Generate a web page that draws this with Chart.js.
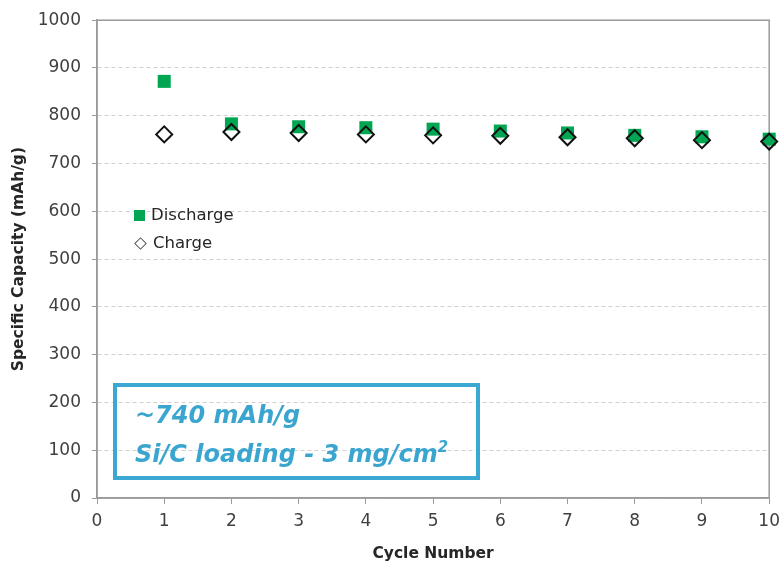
<!DOCTYPE html>
<html lang="en">
<head>
  <meta charset="utf-8">
  <title>Specific Capacity vs Cycle Number</title>
  <script src="https://cdn.jsdelivr.net/npm/chart.js@4.4.1/dist/chart.umd.min.js"></script>
  <style>
    html, body { margin: 0; padding: 0; background: #fff; }
    .wrap { position: relative; width: 781px; height: 565px; overflow: hidden; font-family: "DejaVu Sans", sans-serif; }
    #chart { position: absolute; left: 0; top: -1.5px; }
    .legend { position: absolute; left: 134px; top: 201px; font-size: 16.5px; color: #262626; line-height: 28px; }
    .legend .row { display: flex; align-items: center; }
    .legend .sq { display: inline-block; width: 11px; height: 11px; background: #00a651; margin-right: 6px; }
    .legend .dm { display: inline-block; width: 7px; height: 7px; border: 1px solid #555; transform: rotate(45deg); margin: 0 8px 0 2px; }
    .note { position: absolute; left: 113px; top: 383px; width: 367px; height: 97px; border: 4px solid #3aa8d2;
            color: #3aa6cf; font-weight: bold; font-style: italic; font-size: 24px; line-height: 39px; padding: 9px 0 0 18px; box-sizing: border-box; white-space: nowrap; }
    .note sup { font-size: 15px; vertical-align: 10px; line-height: 0; }
  </style>
</head>
<body>
  <div class="wrap">
    <canvas id="chart" width="787" height="565"></canvas>
    <div class="legend">
      <div class="row"><span class="sq"></span>Discharge</div>
      <div class="row"><span class="dm"></span>Charge</div>
    </div>
    <div class="note">~740 mAh/g<br>Si/C loading - 3 mg/cm<sup>2</sup></div>
  </div>

  <script>
    // values
    var cycles = [1, 2, 3, 4, 5, 6, 7, 8, 9, 10];
    var discharge = [872, 783, 777, 775, 772, 768, 764, 759, 756, 751];
    var charge = [761, 766, 764, 761, 759, 758, 755, 753, 749, 746];
    var xTicks = [0, 1, 2, 3, 4, 5, 6, 7, 8, 9, 10];
    var yTicks = [0, 100, 200, 300, 400, 500, 600, 700, 800, 900, 1000];

    function pts(vals) {
      return cycles.map(function (c, i) { return { x: c, y: vals[i] }; });
    }

    // solid frame round the plot area, under the points
    var frame = {
      id: 'frame',
      beforeDatasetsDraw: function (chart) {
        var a = chart.chartArea, ctx = chart.ctx;
        ctx.save();
        ctx.strokeStyle = '#9a9a9a';
        ctx.lineWidth = 1.5;
        ctx.strokeRect(a.left, a.top, a.right - a.left, a.bottom - a.top);
        ctx.restore();
      }
    };

    new Chart(document.getElementById('chart'), {
      type: 'scatter',
      data: {
        datasets: [{
          label: 'Charge',
          data: pts(charge),
          order: 1,
          pointStyle: 'rectRot',
          pointRadius: 8,
          pointHoverRadius: 8,
          backgroundColor: 'rgba(0,0,0,0)',
          borderColor: '#111',
          pointBorderWidth: 2,
          clip: false
        }, {
          label: 'Discharge',
          data: pts(discharge),
          order: 2,
          pointStyle: 'rect',
          pointRadius: 9.2,
          pointHoverRadius: 9.2,
          backgroundColor: '#00a651',
          borderColor: '#00a651',
          pointBorderWidth: 0,
          clip: false
        }]
      },
      options: {
        responsive: false,
        animation: false,
        layout: { padding: { top: 16.5, right: 6, left: 0, bottom: 0 } },
        plugins: { legend: { display: false }, tooltip: { enabled: false } },
        scales: {
          x: {
            type: 'linear',
            min: 0, max: 10,
            afterBuildTicks: function (s) { s.ticks = xTicks.map(function (v) { return { value: v }; }); },
            afterFit: function (s) { s.height = 66; },
            grid: { drawOnChartArea: false, tickLength: 6, color: '#9a9a9a', tickColor: '#9a9a9a' },
            border: { color: '#9a9a9a', width: 1.5 },
            ticks: { color: '#404040', font: { family: 'DejaVu Sans', size: 17 }, padding: 7, maxRotation: 0,
                     callback: function (v) { return String(v); } },
            title: { display: true, text: 'Cycle Number', color: '#262626',
                     font: { family: 'DejaVu Sans', size: 15.5, weight: 'bold' }, padding: { top: 0, bottom: 1 } }
          },
          y: {
            min: 0, max: 1000,
            afterBuildTicks: function (s) { s.ticks = yTicks.map(function (v) { return { value: v }; }); },
            afterFit: function (s) { s.width = 97; },
            grid: { color: '#d0d0d0', tickColor: '#9a9a9a', tickLength: 5, lineWidth: 1 },
            border: { color: '#9a9a9a', width: 1.5, dash: [4, 3] },
            ticks: { color: '#404040', font: { family: 'DejaVu Sans', size: 17 }, padding: 11,
                     callback: function (v) { return String(v); } },
            title: { display: true, text: 'Specific Capacity (mAh/g)', color: '#262626',
                     font: { family: 'DejaVu Sans', size: 15.5, weight: 'bold' }, padding: { top: 10, bottom: 0 } }
          }
        }
      },
      plugins: [frame]
    });
  </script>
</body>
</html>
